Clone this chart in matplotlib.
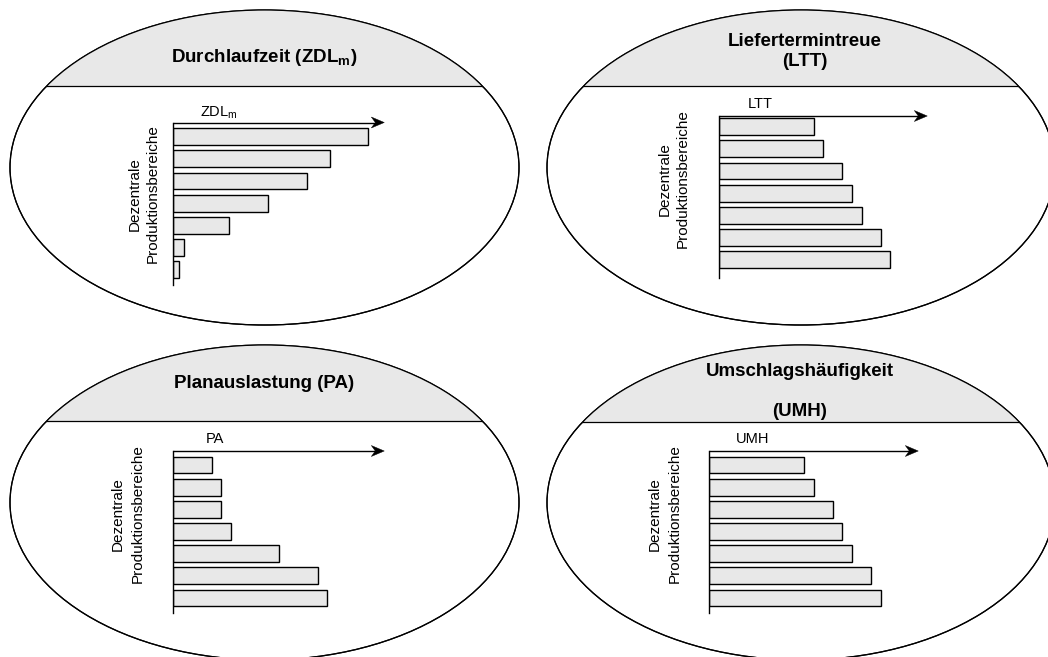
import matplotlib
matplotlib.use("Agg")
import matplotlib.pyplot as plt
from matplotlib.patches import Ellipse, Rectangle, Polygon

plt.rcParams["font.family"] = ["Liberation Sans", "DejaVu Sans"]
plt.rcParams["mathtext.fontset"] = "custom"
plt.rcParams["mathtext.rm"] = "Liberation Sans"
plt.rcParams["mathtext.bf"] = "Liberation Sans:bold"
plt.rcParams["mathtext.default"] = "regular"

# Relative indicator values per decentral production area (arrow length = 100)
zdl_values = [92.4, 74.1, 63.4, 45.0, 26.4, 5.2, 2.8]
ltt_values = [45.6, 50.1, 59.2, 63.8, 68.5, 77.6, 82.1]
pa_values = [18.3, 22.7, 22.7, 27.5, 50.2, 68.4, 73.0]
umh_values = [45.5, 50.2, 59.2, 63.7, 68.3, 77.3, 82.0]

titles = ["Durchlaufzeit (ZDL$_\\mathbf{m}$)", "Liefertermintreue\n(LTT)",
          "Planauslastung (PA)", "Umschlagshäufigkeit\n\n(UMH)"]
axis_labels = ["ZDL$_m$", "LTT", "PA", "UMH"]
area_label = ["Dezentrale", "Produktionsbereiche"]

W, H = 1048, 657
fig = plt.figure(figsize=(W / 100, H / 100), dpi=100)
bg = fig.add_axes([0, 0, 1, 1])
bg.set_xlim(0, W)
bg.set_ylim(H, 0)
bg.axis("off")

GRAY = "#e8e8e8"

# layout of each panel: ellipse (cx, cy, a, b), header line y,
# bar axes box (x0, x1, top, bottom), first bar centre, texts
panels = [
    dict(values=zdl_values, ell=(264.5, 167.5, 254.5, 157.5), head=86,
         box=(173.3, 384.3, 122.5, 285), c0=136.7,
         title_xy=(264, 62), lab_xy=(200, 117),
         dz=(135, 194.5), pb=(153, 194)),
    dict(values=ltt_values, ell=(801, 167.5, 254, 157.5), head=86,
         box=(719, 927.3, 116, 278), c0=126.7,
         title_xy=(805, 66), lab_xy=(748, 108),
         dz=(665, 179.5), pb=(683, 178.5)),
    dict(values=pa_values, ell=(264.5, 502.5, 254.5, 157.5), head=421,
         box=(173.3, 384.3, 451, 613), c0=465,
         title_xy=(264, 388), lab_xy=(206, 443),
         dz=(118, 514.5), pb=(138, 514)),
    dict(values=umh_values, ell=(801, 502.5, 254, 157.5), head=422,
         box=(709, 918.3, 451, 613), c0=465,
         title_xy=(800, 416), lab_xy=(736, 443),
         dz=(655, 514.5), pb=(675, 514)),
]

SPACING = 22.17

for p, title, lab in zip(panels, titles, axis_labels):
    cx, cy, a, b = p["ell"]
    ell = Ellipse((cx, cy), 2 * a, 2 * b, facecolor="white",
                  edgecolor="black", lw=0.9, zorder=1)
    bg.add_patch(ell)
    cap = Rectangle((cx - a - 5, cy - b - 5), 2 * a + 10, p["head"] - (cy - b - 5),
                    facecolor=GRAY, edgecolor="none", zorder=2)
    bg.add_patch(cap)
    cap.set_clip_path(ell)
    line, = bg.plot([cx - a, cx + a], [p["head"], p["head"]], color="black",
                    lw=0.9, zorder=3)
    line.set_clip_path(ell)
    outline = Ellipse((cx, cy), 2 * a, 2 * b, facecolor="none",
                      edgecolor="black", lw=0.9, zorder=4)
    bg.add_patch(outline)

    bg.text(p["title_xy"][0], p["title_xy"][1], title, ha="center",
            va="baseline", fontsize=13.5, fontweight="bold",
            multialignment="center", linespacing=1.25, zorder=5)
    bg.text(p["lab_xy"][0], p["lab_xy"][1], lab, ha="left", va="baseline",
            fontsize=10.5, zorder=5)
    bg.text(p["dz"][0], p["dz"][1], area_label[0], rotation=90, ha="center",
            va="center", fontsize=11, zorder=5)
    bg.text(p["pb"][0], p["pb"][1], area_label[1], rotation=90, ha="center",
            va="center", fontsize=11, zorder=5)

    x0, x1, top, bottom = p["box"]
    # stealth-style arrow head at the end of the value axis
    bg.add_patch(Polygon([(x1, top), (x1 - 13, top - 5.5), (x1 - 9, top),
                          (x1 - 13, top + 5.5)], closed=True,
                         facecolor="black", edgecolor="black", lw=0.3,
                         zorder=6))

    ax = fig.add_axes([x0 / W, 1 - bottom / H, (x1 - x0) / W, (bottom - top) / H])
    ax.set_facecolor("none")
    n = len(p["values"])
    ax.barh(range(n), p["values"], height=0.76, color=GRAY,
            edgecolor="black", linewidth=1.0)
    ax.set_xlim(0, 100)
    c_last = p["c0"] + (n - 1) * SPACING
    ax.set_ylim((n - 1) + (bottom - c_last) / SPACING, -(p["c0"] - top) / SPACING)
    for s in ("top", "right", "bottom"):
        ax.spines[s].set_visible(False)
    ax.spines["left"].set_linewidth(1.0)
    ax.set_xticks([])
    ax.set_yticks([])
    # value axis drawn along the top edge
    ax.plot([0, 0.96], [1, 1], transform=ax.transAxes, color="black",
            lw=1.0, clip_on=False, solid_capstyle="butt")

fig.savefig("out.png", dpi=100)
